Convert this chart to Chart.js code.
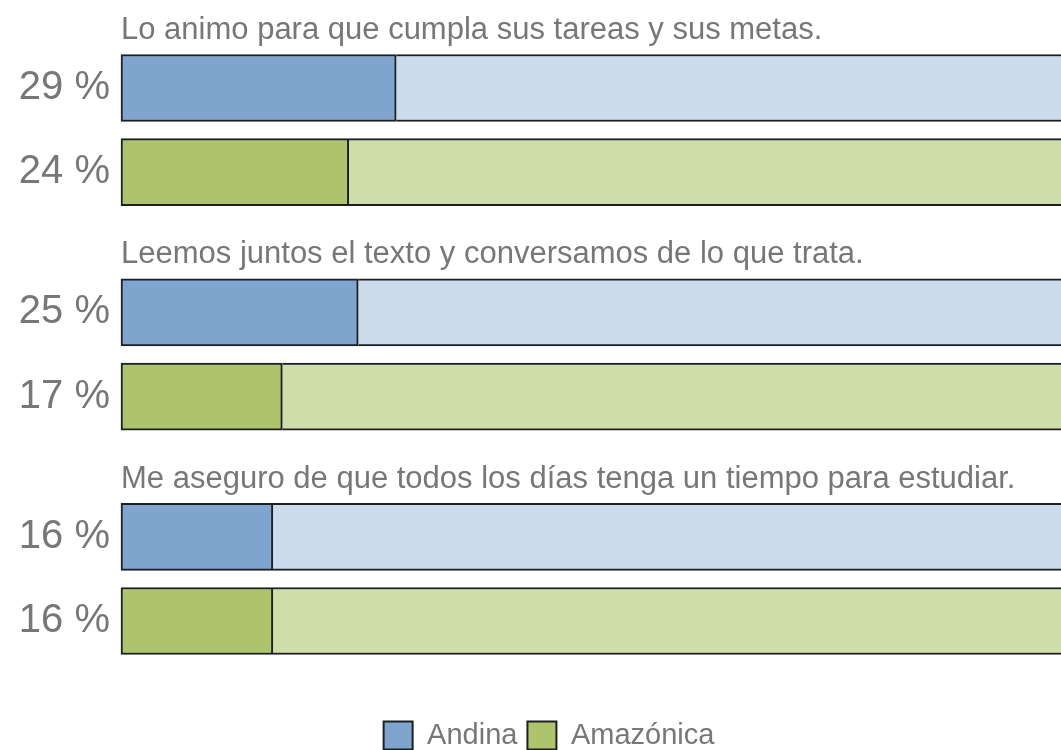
<!DOCTYPE html>
<html>
<head>
<meta charset="utf-8">
<script src="https://cdn.jsdelivr.net/npm/chart.js@4"></script>
<style>
  html, body { margin: 0; padding: 0; background: #fff; overflow: hidden; }
  #wrap { width: 1070px; height: 760px; position: relative; }
</style>
</head>
<body>
<div id="wrap"><canvas id="habitosChart"></canvas></div>
<script>
// Preguntas (una por grupo) y porcentajes por región
var preguntas = [
    'Lo animo para que cumpla sus tareas y sus metas.',
    'Leemos juntos el texto y conversamos de lo que trata.',
    'Me aseguro de que todos los días tenga un tiempo para estudiar.'
];
var andina = [29, 25, 16];
var amazonica = [24, 17, 16];
var regiones = ['Andina', 'Amazónica'];

// filas del eje: cada grupo ocupa 8 filas, barra Andina en la 0 y Amazónica en la 3
var FILAS_GRUPO = 8;
var FILA_AMAZ = 3;
var totalFilas = (preguntas.length - 1) * FILAS_GRUPO + FILA_AMAZ + 1;

var etiquetas = [];
var andinaVal = [], andinaResto = [], amazVal = [], amazResto = [];
for (var i = 0; i < totalFilas; i++) {
    etiquetas.push('');
    andinaVal.push(null); andinaResto.push(null);
    amazVal.push(null); amazResto.push(null);
}
preguntas.forEach(function(p, g) {
    var fa = g * FILAS_GRUPO;
    var fz = fa + FILA_AMAZ;
    etiquetas[fa] = andina[g] + ' %';
    etiquetas[fz] = amazonica[g] + ' %';
    andinaVal[fa] = andina[g];
    andinaResto[fa] = 100 - andina[g];
    amazVal[fz] = amazonica[g];
    amazResto[fz] = 100 - amazonica[g];
});

var GRIS = '#777777';
var BORDE = '#1c1f24';

// dibuja el texto de cada pregunta encima de su primera barra
var titulosPlugin = {
    id: 'titulos',
    afterDatasetsDraw: function(chart) {
        var ctx = chart.ctx;
        var meta = chart.getDatasetMeta(0);
        ctx.save();
        ctx.fillStyle = GRIS;
        ctx.font = '31px "Liberation Sans", Arial, sans-serif';
        ctx.textBaseline = 'middle';
        ctx.textAlign = 'left';
        preguntas.forEach(function(p, g) {
            var bar = meta.data[g * FILAS_GRUPO];
            var top = bar.y - bar.height / 2;
            ctx.fillText(p, chart.chartArea.left, top - 24);
        });
        ctx.restore();
    }
};

// corre la leyenda un poco a la derecha
var leyendaPlugin = {
    id: 'leyendaCorrida',
    afterLayout: function(chart) {
        if (chart.legend) {
            chart.legend.left += 14;
            chart.legend.right += 14;
        }
    }
};

var ctx = document.getElementById('habitosChart').getContext('2d');
new Chart(ctx, {
    type: 'bar',
    data: {
        labels: etiquetas,
        datasets: [
            { label: regiones[0], data: andinaVal, backgroundColor: '#7fa5cf', borderColor: BORDE,
              borderWidth: 2, borderSkipped: false },
            { label: 'resto1', data: andinaResto, backgroundColor: '#cbdbec', borderColor: BORDE,
              borderWidth: { top: 2, bottom: 2, right: 2, left: 0 }, borderSkipped: false },
            { label: regiones[1], data: amazVal, backgroundColor: '#adc46d', borderColor: BORDE,
              borderWidth: 2, borderSkipped: false },
            { label: 'resto2', data: amazResto, backgroundColor: '#cfdda9', borderColor: BORDE,
              borderWidth: { top: 2, bottom: 2, right: 2, left: 0 }, borderSkipped: false }
        ]
    },
    options: {
        indexAxis: 'y',
        responsive: true,
        maintainAspectRatio: false,
        animation: false,
        clip: false,
        barThickness: 67,
        layout: { padding: { top: 74, left: 0, right: 0, bottom: 0 } },
        scales: {
            x: {
                stacked: true,
                min: 0,
                max: 100,
                grid: { display: false },
                border: { display: false },
                ticks: { display: false },
                afterFit: function(scale) { scale.height = 76; }
            },
            y: {
                stacked: true,
                grid: { display: false },
                border: { display: false },
                ticks: {
                    autoSkip: false,
                    color: GRIS,
                    padding: 3,
                    font: { family: '"Liberation Sans", Arial, sans-serif', size: 40 }
                },
                afterFit: function(scale) { scale.width = 121; }
            }
        },
        plugins: {
            legend: {
                position: 'bottom',
                labels: {
                    color: GRIS,
                    boxWidth: 29,
                    boxHeight: 28,
                    padding: 10,
                    font: { family: '"Liberation Sans", Arial, sans-serif', size: 29 },
                    filter: function(item) { return item.datasetIndex === 0 || item.datasetIndex === 2; }
                }
            },
            tooltip: { enabled: false }
        }
    },
    plugins: [titulosPlugin, leyendaPlugin]
});
</script>
</body>
</html>
